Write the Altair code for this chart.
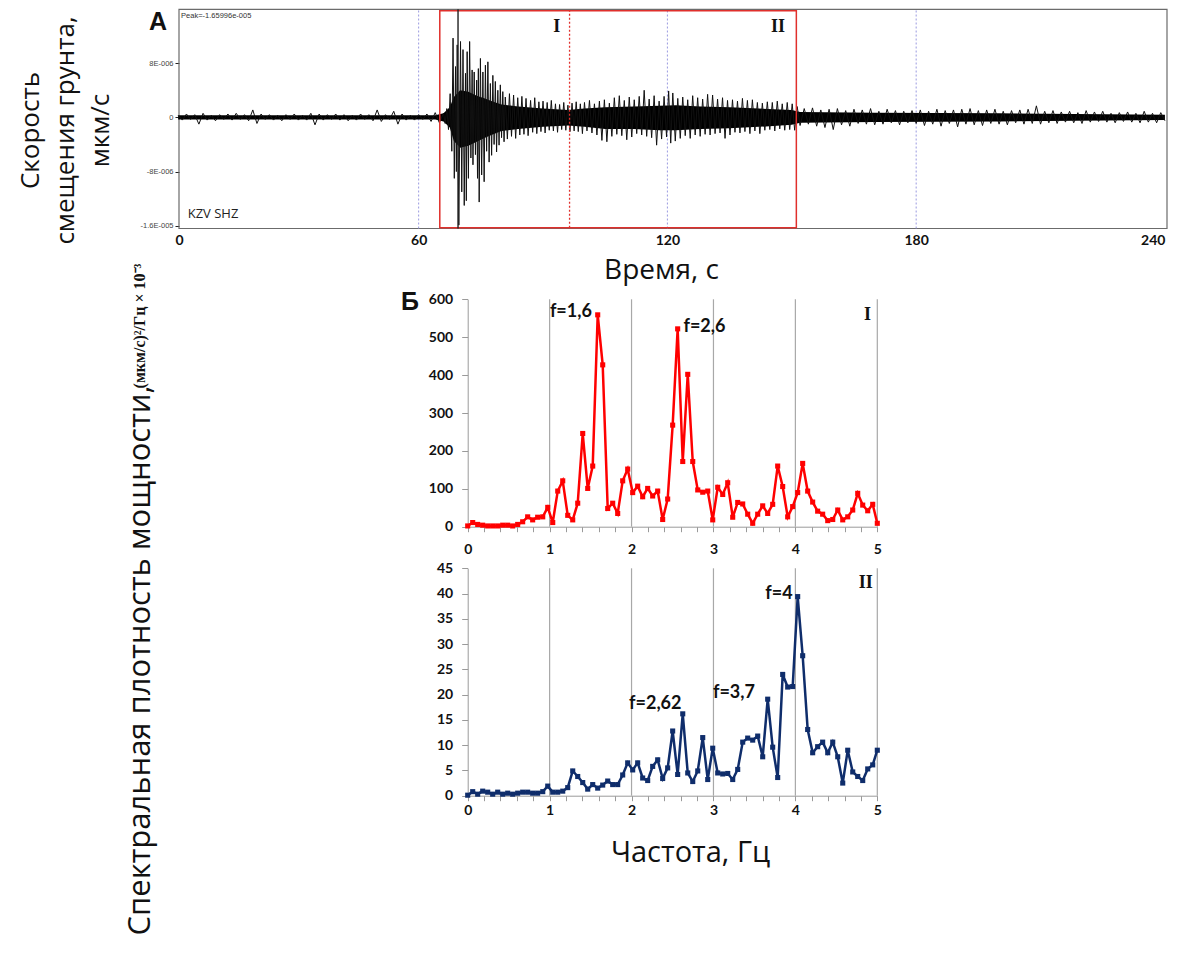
import altair as alt
import pandas as pd

W, H = 1160, 938

# ---------------- Panel A: seismogram (amplitude in units of 1e-6) ----------------
segA_t = [2, 3, 4, 5, 6, 7, 8, 9, 10, 11, 12, 13, 14, 15, 16, 17, 18, 19, 20, 21,
          22, 23, 24, 25, 26, 27, 28, 29, 30, 31, 32, 33, 34, 35, 36, 37, 38, 39, 40, 41,
          42, 43, 44, 45, 46, 47, 48, 49, 50, 51, 52, 53, 54, 55, 56, 57, 58, 59, 60, 61,
          62, 63, 64, 65]
segA_v = [0.3, -0.4, 0.5, -0.3, 0.4, -1.0, 0.6, -0.4, 0.3, -0.5,
          0.4, -0.3, 0.5, -0.4, 0.6, -0.3, 0.4, -0.5, 1.1, -0.9,
          0.5, -0.3, 0.4, -0.4, 0.3, -0.5, 0.4, -0.3, 0.5, -0.4,
          0.3, -0.4, 0.6, -1.1, 0.5, -0.4, 0.4, -0.3, 0.5, -0.4,
          0.4, -0.5, 0.3, -0.4, 0.5, -0.3, 0.4, -0.5, 1.1, -0.6,
          0.4, -0.3, 0.9, -1.0, 0.5, -0.4, 0.3, -0.4, 0.4, -0.3,
          0.5, -0.6, 0.7, -0.8]
segB_t = [66.0, 66.4, 66.8, 67.2, 67.6, 68.0, 68.3, 68.6, 68.9, 69.1,
          69.3, 69.7, 70.1, 70.4, 70.7, 71.0, 71.3, 71.5, 71.7, 72.0,
          72.3, 72.6, 72.9, 73.1, 73.4, 73.7, 74.0, 74.2, 74.4, 74.6,
          74.9, 75.2, 75.5, 75.8, 76.1, 76.4, 76.7, 77.0, 77.3, 77.6,
          77.9, 78.2, 78.5, 78.8, 79.1, 79.4, 79.7, 80.0, 80.3, 80.6, 80.9]
segB_v = [0.6, -0.9, 1.3, -1.8, 3.5, -5.0, 11.7, -9.0, 7.5, -8.0,
          10.7, -15.9, 11.2, -11.0, 10.0, -13.0, 6.5, -12.3, 9.7, -9.0,
          11.2, -6.0, 7.0, -7.0, 6.7, -5.5, 5.5, -9.0, 7.2, -12.5,
          8.7, -8.5, 6.7, -9.5, 7.7, -5.0, 8.2, -6.6, 5.0, -5.6,
          6.2, -4.0, 5.3, -5.1, 4.0, -4.1, 4.8, -3.0, 3.8, -3.6, 3.0]
segC_t = [81.4, 81.9, 82.4, 82.9, 83.4, 83.9, 84.4, 84.9, 85.4, 85.9, 86.4,
          87.0, 87.5, 88.0, 88.5, 89.0, 89.5, 90.0, 90.5, 91.0, 91.5,
          92.0, 92.5, 93.0, 93.5, 94.0, 94.5, 95.0, 95.5, 96.0, 96.5,
          97.0, 97.5, 98.0, 98.5, 99.0, 99.5]
segC_v = [-3.2, 3.5, -2.8, 3.3, -3.1, 2.9, -2.6, 3.1, -2.5, 2.8, -2.7,
          2.5, -2.2, 2.9, -2.4, 2.3, -2.1, 2.4, -2.3, 2.2, -1.9,
          2.5, -2.0, 2.0, -2.2, 1.9, -1.8, 2.2, -1.9, 1.8, -2.1,
          2.1, -2.0, 2.3, -2.1, 2.0, -2.4]
segD_t = [100.0, 100.6, 101.2, 101.8, 102.4, 103.0, 103.6, 104.2, 104.8, 105.4,
          106.0, 106.6, 107.2, 107.8, 108.4, 109.0, 109.6, 110.2, 110.8, 111.4,
          112.0, 112.6, 113.2, 113.8, 114.4, 115.0, 115.6, 116.2, 116.8, 117.4,
          118.0, 118.6, 119.2, 119.8, 120.3, 120.8, 121.3, 121.9, 122.5, 123.1,
          123.7, 124.3, 124.9, 125.5, 126.1, 126.7, 127.3, 127.9, 128.5, 129.1,
          129.7, 130.3, 130.9, 131.5, 132.1, 132.7, 133.3, 133.9, 134.5, 135.1,
          135.7, 136.3, 136.9, 137.5, 138.1, 138.7, 139.3, 139.9, 140.5, 141.1,
          141.7, 142.3, 142.9, 143.5, 144.1, 144.7, 145.3, 145.9, 146.5, 147.1,
          147.7, 148.3, 148.9, 149.5, 150.1, 150.7, 151.3]
segD_v = [2.2, -2.0, 2.5, -2.3, 2.0, -2.6, 2.4, -3.4, 2.6, -3.6,
          2.1, -2.8, 2.9, -2.5, 3.2, -2.7, 2.5, -3.3, 3.0, -2.9,
          2.6, -2.4, 3.1, -2.6, 4.0, -2.8, 2.7, -3.0, 3.2, -4.1,
          2.4, -3.2, 3.1, -2.9, 3.9, -3.8, 3.6, -3.5, 2.8, -3.1,
          3.0, -2.7, 2.6, -3.1, 3.2, -2.6, 2.9, -2.8, 2.7, -2.5,
          3.4, -2.6, 3.3, -2.4, 2.7, -2.3, 2.9, -3.1, 2.5, -2.6,
          2.6, -2.2, 2.4, -2.3, 2.8, -2.1, 2.5, -2.4, 2.6, -2.0,
          2.2, -2.4, 2.1, -1.9, 2.3, -1.8, 2.2, -2.0, 2.4, -1.7,
          2.0, -1.9, 2.2, -1.8, 2.0, -1.9, 1.6]
segE_t = [152, 153, 154, 155, 156, 157, 158, 159, 160, 161,
          162, 163, 164, 165, 166, 167, 168, 169, 170, 171,
          172, 173, 174, 175, 176, 177, 178, 179, 180, 181,
          182, 183, 184, 185, 186, 187, 188, 189, 190, 191,
          192, 193, 194, 195, 196, 197, 198, 199, 200, 201,
          202, 203, 204, 205, 206, 207, 208, 209, 210, 211,
          212, 213, 214, 215, 216, 217, 218, 219, 220, 221,
          222, 223, 224, 225, 226, 227, 228, 229, 230, 231,
          232, 233, 234, 235, 236, 237, 238, 239, 240]
segE_v = [-1.2, 1.3, -1.0, 1.4, -1.3, 1.1, -1.5, 1.2, -1.8, 1.3,
          -1.1, 1.0, -1.3, 1.2, -0.9, 1.1, -1.0, 1.3, -1.1, 0.9,
          -1.0, 1.2, -0.8, 1.0, -1.1, 0.9, -0.8, 1.0, -0.9, 1.1,
          -1.2, 0.9, -1.0, 1.2, -1.3, 1.0, -0.9, 1.1, -1.4, 1.2,
          -1.0, 1.3, -1.1, 1.0, -1.2, 1.1, -0.9, 1.2, -1.0, 0.9,
          -1.1, 1.0, -0.8, 1.1, -1.0, 1.2, -0.9, 1.7, -1.0, 0.9,
          -0.8, 1.0, -0.9, 0.8, -0.7, 0.9, -0.8, 0.7, -0.9, 1.0,
          -0.7, 0.8, -0.6, 0.9, -0.7, 0.6, -0.8, 0.7, -0.6, 0.8,
          -0.7, 0.6, -0.8, 0.9, -0.7, 0.6, -0.8, 0.7, -0.5]

# dense core of the trace (envelope of the solid black band)
core_t = [2, 64, 66, 67.5, 68.5, 70, 72, 74, 76, 78,
          80, 84, 90, 96, 100, 105, 112, 118, 122, 128,
          135, 142, 150, 152, 170, 200, 240]
core_hi = [0.3, 0.3, 0.6, 1.5, 3.0, 4.0, 3.8, 3.2, 2.8, 2.3,
           1.9, 1.6, 1.3, 1.1, 1.3, 1.5, 1.6, 1.7, 1.8, 1.6,
           1.5, 1.3, 1.1, 0.8, 0.7, 0.6, 0.4]
core_lo = [-0.3, -0.3, -0.6, -1.5, -3.5, -4.5, -4.2, -3.6, -3.0, -2.5,
           -2.0, -1.7, -1.4, -1.2, -1.4, -1.7, -1.7, -1.9, -1.9, -1.7,
           -1.6, -1.4, -1.1, -0.8, -0.7, -0.6, -0.4]

time_ticks = [2.2, 60, 120, 180, 240]
amp_ticks = [-16, -8, 0, 8]
minute_marks = [60, 120, 180]
window_start, window_split, window_end = 65.1, 96.4, 151.1
pick_time = 69.5

# ---------------- Panel B: power spectra ----------------
freq = [0.000, 0.061, 0.122, 0.183, 0.244, 0.305, 0.366, 0.427, 0.488, 0.549,
        0.610, 0.671, 0.732, 0.793, 0.854, 0.916, 0.977, 1.038, 1.099, 1.160,
        1.221, 1.282, 1.343, 1.404, 1.465, 1.526, 1.587, 1.648, 1.709, 1.770,
        1.831, 1.892, 1.953, 2.014, 2.075, 2.136, 2.197, 2.258, 2.319, 2.380,
        2.441, 2.502, 2.563, 2.625, 2.686, 2.747, 2.808, 2.869, 2.930, 2.991,
        3.052, 3.113, 3.174, 3.235, 3.296, 3.357, 3.418, 3.479, 3.540, 3.601,
        3.662, 3.723, 3.784, 3.845, 3.906, 3.967, 4.028, 4.089, 4.150, 4.211,
        4.272, 4.333, 4.395, 4.456, 4.517, 4.578, 4.639, 4.700, 4.761, 4.822,
        4.883, 4.944, 5.000]
psd_I = [2, 11, 6, 4, 2, 2, 2, 4, 4, 2,
         6, 13, 26, 18, 25, 26, 51, 11, 94, 121,
         30, 18, 62, 246, 101, 160, 559, 427, 48, 62,
         35, 121, 152, 90, 107, 79, 101, 81, 94, 19,
         73, 268, 522, 172, 402, 172, 97, 91, 94, 18,
         104, 85, 116, 25, 64, 60, 33, 9, 33, 55,
         35, 59, 160, 106, 26, 53, 90, 167, 94, 65,
         41, 33, 16, 19, 44, 18, 26, 44, 88, 57,
         42, 59, 9]
psd_II = [0.1, 0.8, 0.3, 0.9, 0.7, 0.3, 0.7, 0.3, 0.5, 0.3,
          0.5, 0.7, 0.7, 0.5, 0.5, 0.8, 1.9, 0.7, 0.7, 0.9,
          1.6, 4.9, 3.8, 2.6, 1.3, 2.2, 1.5, 2.1, 2.9, 2.2,
          2.2, 4.1, 6.5, 5.1, 6.5, 3.5, 3.0, 5.8, 7.1, 3.4,
          5.5, 12.8, 4.2, 16.2, 4.5, 2.8, 4.9, 11.5, 3.2, 9.4,
          4.5, 4.3, 4.4, 3.2, 5.2, 10.6, 11.4, 11.0, 11.8, 7.7,
          19.1, 9.6, 3.6, 24.0, 21.5, 21.6, 39.4, 27.7, 13.1, 8.5,
          9.7, 10.6, 8.5, 10.6, 7.7, 2.5, 9.0, 4.7, 3.8, 3.0,
          5.3, 6.1, 9.0]
freq_ticks = [0, 0.2, 0.4, 0.6, 0.8, 1, 1.2, 1.4, 1.6, 1.8, 2, 2.2, 2.4, 2.6, 2.8,
              3, 3.2, 3.4, 3.6, 3.8, 4, 4.2, 4.4, 4.6, 4.8, 5]
freq_grid = [1, 2, 3, 4, 5]
psd_I_ticks = [0, 100, 200, 300, 400, 500, 600]
psd_II_ticks = [0, 5, 10, 15, 20, 25, 30, 35, 40, 45]

notes_I = ["f=1,6", "f=2,6"]
notes_I_f = [1.26, 2.89]
notes_I_p = [567, 528]
notes_II = ["f=2,62", "f=3,7", "f=4"]
notes_II_f = [2.29, 3.25, 3.80]
notes_II_p = [18.1, 20.4, 40.0]

SANS = "Open Sans"
BOLD = "Lato"

# ================= Panel A =================
df_trace = pd.DataFrame({"t": segA_t + segB_t + segC_t + segD_t + segE_t,
                         "v": segA_v + segB_v + segC_v + segD_v + segE_v})
df_core = pd.DataFrame({"t": core_t, "hi": core_hi, "lo": core_lo})

xA = alt.Scale(domain=[2.2, 240.5], range=[171, 1159], nice=False, zero=False)
yA = alt.Scale(domain=[-16.4, 15.95], range=[220.5, 1.3], nice=False, zero=False)

axA_x = alt.Axis(orient="bottom", offset=221.5 - H, values=time_ticks,
                 labelExpr="datum.value < 10 ? '0' : datum.label",
                 labelAlign={"expr": "datum.value > 230 ? 'right' : 'center'"},
                 ticks=False, domain=False, grid=False, labelFlush=False, labelOverlap=False,
                 labelFont=BOLD, labelFontWeight="bold", labelFontSize=14, labelColor="#111",
                 labelPadding=4,
                 title="Время, с", titleFont=SANS, titleFontSize=28, titleFontWeight="normal",
                 titleColor="#111", titleX=653, titleY=41, titleAlign="center",
                 titleBaseline="middle")
axA_y = alt.Axis(orient="left", offset=-171, values=amp_ticks,
                 labelExpr="datum.value == 8 ? '8E-006' : datum.value == -8 ? '-8E-006' : "
                           "datum.value == -16 ? '-1.6E-005' : '0'",
                 tickSize=4, tickColor="#222", domain=False, grid=False,
                 labelFont="Liberation Sans", labelFontSize=7.5, labelColor="#444", labelPadding=2,
                 title=["Скорость", "смещения  грунта,", "мкм/с"], titleFont=SANS,
                 titleFontSize=26, titleFontWeight="normal", titleColor="#111",
                 titleAngle=270, titleX=-149, titleY=122, titleAlign="center",
                 titleBaseline="middle", titleLineHeight=35)

frame = alt.Chart(pd.DataFrame({"t1": [xA.domain[0]], "t2": [xA.domain[1]],
                                "a1": [yA.domain[0]], "a2": [yA.domain[1]]})).mark_rect(
    fill=None, stroke="#6b6b6b", strokeWidth=1.2).encode(
    x=alt.X("t1:Q", scale=xA, axis=axA_x), x2="t2:Q",
    y=alt.Y("a1:Q", scale=yA, axis=axA_y), y2="a2:Q")

dotted = alt.Chart(pd.DataFrame({"t": minute_marks})).mark_rule(
    color="#9a9ae0", strokeDash=[2, 2], strokeWidth=1).encode(
    x=alt.X("t:Q", scale=xA), y=alt.datum(-16.4), y2=alt.datum(15.95))

core = alt.Chart(df_core).mark_area(color="#000", opacity=1).encode(
    x=alt.X("t:Q", scale=xA), y=alt.Y("hi:Q", scale=yA), y2="lo:Q")

trace = alt.Chart(df_trace).mark_line(color="#111", strokeWidth=1).encode(
    x=alt.X("t:Q", scale=xA), y=alt.Y("v:Q", scale=yA))

windows = alt.Chart(pd.DataFrame({"t1": [window_start], "t2": [window_end]})).mark_rect(
    fill=None, stroke="#e0302c", strokeWidth=1.5).encode(
    x=alt.X("t1:Q", scale=xA), x2="t2:Q", y=alt.datum(-16.3), y2=alt.datum(15.75))

split = alt.Chart(pd.DataFrame({"t": [window_split]})).mark_rule(
    color="#e0302c", strokeDash=[2, 2], strokeWidth=1.3).encode(
    x=alt.X("t:Q", scale=xA), y=alt.datum(-16.3), y2=alt.datum(15.75))

pick = alt.Chart(pd.DataFrame({"t": [pick_time]})).mark_rule(
    color="#222", strokeWidth=1.4).encode(
    x=alt.X("t:Q", scale=xA), y=alt.datum(-16.4), y2=alt.datum(15.95))

roman_A = alt.Chart(pd.DataFrame({"t": [93.3, 146.7], "a": [13.3, 13.3], "s": ["I", "II"]})).mark_text(
    font="Liberation Serif", fontWeight="bold", fontSize=18, color="#111",
    align="center", baseline="middle").encode(
    x=alt.X("t:Q", scale=xA), y=alt.Y("a:Q", scale=yA), text="s:N")

peak = alt.Chart(pd.DataFrame({"t": [2.7], "a": [14.9], "s": ["Peak=-1.65996e-005"]})).mark_text(
    font="Liberation Sans", fontSize=7.5, color="#333", align="left", baseline="middle").encode(
    x=alt.X("t:Q", scale=xA), y=alt.Y("a:Q", scale=yA), text="s:N")

station = alt.Chart(pd.DataFrame({"t": [4.3], "a": [-14.2], "s": ["KZV SHZ"]})).mark_text(
    font=SANS, fontSize=13, color="#222", align="left", baseline="middle").encode(
    x=alt.X("t:Q", scale=xA), y=alt.Y("a:Q", scale=yA), text="s:N")

letter_A = alt.Chart(pd.DataFrame({"s": ["А"]})).mark_text(
    font="Liberation Sans", fontWeight="bold", fontSize=25, color="#111",
    align="center", baseline="middle").encode(
    x=alt.value(150), y=alt.value(14), text="s:N")

panelA = alt.layer(frame, dotted, core, trace, windows, split, pick,
                   roman_A, peak, station, letter_A)

# ================= Panel B, spectrum I =================
xS = dict(domain=[0, 5], range=[459.7, 869.3], nice=False, zero=False)
xS1 = alt.Scale(**xS)
yS1 = alt.Scale(domain=[0, 600], range=[518.7, 291.3], nice=False, zero=False)

def x_axis(offset, padding, title=None, **kw):
    return alt.Axis(orient="bottom", offset=offset, values=freq_ticks,
                    labelExpr="datum.value == round(datum.value) ? format(datum.value, 'd') : ''",
                    tickSize=5, tickColor="#9a9a9a", domainColor="#9a9a9a", grid=False,
                    labelFlush=False, labelOverlap=False, labelBound=False,
                    labelFont=BOLD, labelFontWeight="bold", labelFontSize=14,
                    labelColor="#111", labelPadding=padding, title=title, **kw)

def y_axis(values, title=None, **kw):
    return alt.Axis(orient="left", offset=-459.7, values=values,
                    tickSize=6, tickColor="#9a9a9a", domainColor="#9a9a9a", grid=False,
                    labelFont=BOLD, labelFontWeight="bold", labelFontSize=14,
                    labelColor="#111", labelPadding=9, labelOverlap=False, title=title, **kw)

grid_I = alt.Chart(pd.DataFrame({"g": freq_grid})).mark_rule(
    color="#a8a8a8", strokeWidth=1.2).encode(
    x=alt.X("g:Q", scale=xS1, axis=x_axis(518.7 - H, 11)),
    y=alt.datum(0, scale=yS1, axis=y_axis(psd_I_ticks)), y2=alt.datum(600))

line_I = alt.Chart(pd.DataFrame({"f": freq, "p": psd_I})).mark_line(
    color="#ff0000", strokeWidth=2.5,
    point=alt.OverlayMarkDef(shape="square", size=26, filled=True, color="#ff0000", opacity=1)).encode(
    x=alt.X("f:Q", scale=xS1), y=alt.Y("p:Q", scale=yS1))

notes_I_layer = alt.Chart(pd.DataFrame({"f": notes_I_f, "p": notes_I_p, "s": notes_I})).mark_text(
    font=BOLD, fontWeight="bold", fontSize=18, color="#111", align="center", baseline="middle").encode(
    x=alt.X("f:Q", scale=xS1), y=alt.Y("p:Q", scale=yS1), text="s:N")

roman_I = alt.Chart(pd.DataFrame({"f": [4.88], "p": [558], "s": ["I"]})).mark_text(
    font="Liberation Serif", fontWeight="bold", fontSize=18, color="#111",
    align="center", baseline="middle").encode(
    x=alt.X("f:Q", scale=xS1), y=alt.Y("p:Q", scale=yS1), text="s:N")

letter_B = alt.Chart(pd.DataFrame({"s": ["Б"]})).mark_text(
    font="Liberation Sans", fontWeight="bold", fontSize=25, color="#111",
    align="center", baseline="middle").encode(
    x=alt.value(402), y=alt.value(294), text="s:N")

panelB1 = alt.layer(grid_I, line_I, notes_I_layer, roman_I, letter_B)

# ================= Panel B, spectrum II =================
xS2 = alt.Scale(**xS)
yS2 = alt.Scale(domain=[0, 45], range=[787.7, 560.3], nice=False, zero=False)

grid_II = alt.Chart(pd.DataFrame({"g": freq_grid})).mark_rule(
    color="#a8a8a8", strokeWidth=1.2).encode(
    x=alt.X("g:Q", scale=xS2,
            axis=x_axis(787.7 - H, 3, title="Частота, Гц",
                        titleFont=SANS, titleFontSize=29, titleFontWeight="normal",
                        titleColor="#111", titleX=682, titleY=57, titleAlign="center",
                        titleBaseline="middle")),
    y=alt.datum(0, scale=yS2,
                axis=y_axis(psd_II_ticks, title="Спектральная плотность мощности,",
                            titleFont=SANS, titleFontSize=31, titleFontWeight="normal",
                            titleColor="#111", titleAngle=270, titleX=-327.7, titleY=652,
                            titleAlign="center", titleBaseline="middle")),
    y2=alt.datum(45))

line_II = alt.Chart(pd.DataFrame({"f": freq, "p": psd_II})).mark_line(
    color="#0f2d6b", strokeWidth=2.5,
    point=alt.OverlayMarkDef(shape="square", size=26, filled=True, color="#0f2d6b", opacity=1)).encode(
    x=alt.X("f:Q", scale=xS2), y=alt.Y("p:Q", scale=yS2))

notes_II_layer = alt.Chart(pd.DataFrame({"f": notes_II_f, "p": notes_II_p, "s": notes_II})).mark_text(
    font=BOLD, fontWeight="bold", fontSize=18, color="#111", align="center", baseline="middle").encode(
    x=alt.X("f:Q", scale=xS2), y=alt.Y("p:Q", scale=yS2), text="s:N")

roman_II = alt.Chart(pd.DataFrame({"f": [4.86], "p": [42], "s": ["II"]})).mark_text(
    font="Liberation Serif", fontWeight="bold", fontSize=18, color="#111",
    align="center", baseline="middle").encode(
    x=alt.X("f:Q", scale=xS2), y=alt.Y("p:Q", scale=yS2), text="s:N")

units = alt.Chart(pd.DataFrame({"s": ["(мкм/с)²/Гц × 10⁻³"]})).mark_text(
    font="Liberation Serif", fontWeight="bold", fontSize=16, color="#111", angle=270,
    align="center", baseline="middle").encode(
    x=alt.value(132), y=alt.value(318), text="s:N")

panelB2 = alt.layer(grid_II, line_II, notes_II_layer, roman_II, units)

chart = alt.layer(panelA, panelB1, panelB2).resolve_scale(
    x="independent", y="independent").resolve_axis(
    x="independent", y="independent").properties(
    width=W, height=H, autosize=alt.AutoSizeParams(type="none"), padding=0,
    background="white").configure_view(stroke=None)

chart.save("out.html", embed_options={"renderer": "svg", "actions": False})
